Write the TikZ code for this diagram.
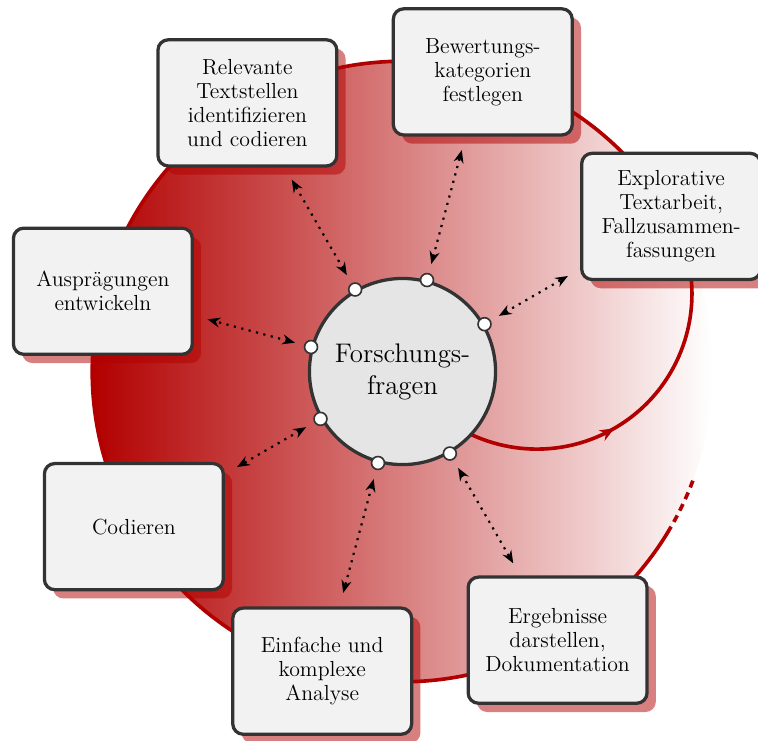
\documentclass[tikz,border=0pt]{standalone}
\usetikzlibrary{arrows.meta,shadows,decorations.markings}

\colorlet{cyclered}{red!70!black}
\colorlet{framegray}{black!80}

\tikzset{
  cycleline/.style={draw=cyclered, line width=2pt},
  centre/.style={circle, draw=framegray, line width=1.8pt, fill=gray!20,
    minimum size=3.6cm, inner sep=0pt, align=center,
    font=\fontsize{14.8}{17.5}\selectfont},
  port/.style={circle, draw=framegray, line width=0.9pt, fill=white,
    minimum size=0.25cm, inner sep=0pt},
  stepbox/.style={draw=framegray, line width=1.8pt, fill=gray!10,
    rounded corners=0.2cm, minimum width=3.46cm, minimum height=2.44cm,
    align=center, font=\fontsize{12}{13.2}\selectfont,
    drop shadow={shadow xshift=0.17cm, shadow yshift=-0.17cm,
      fill=cyclered, opacity=0.5}},
  spoke/.style={black, line width=1.2pt, dash pattern=on 1.2pt off 3pt,
    {Stealth[length=7pt,width=5.5pt]}-{Stealth[length=7pt,width=5.5pt]},
    shorten <=0.18cm, shorten >=0.27cm},
}

\begin{document}
\begin{tikzpicture}
  \useasboundingbox (-7.785,-7.128) rectangle (6.876,7.186);

  % shaded disc of the research cycle
  \shade[left color=cyclered, right color=white] (0,0) circle (6cm);

  % path leaving the centre and joining the outer cycle
  \draw[cycleline, postaction={decorate},
    decoration={markings, mark=at position 0.5 with
      {\arrow{Stealth[length=8pt,width=6.5pt]}}}]
    (0,0) arc[start angle=210, end angle=390, radius=3cm];
  \draw[cycleline] (30:6cm) arc[start angle=30, end angle=330, radius=6cm];
  \draw[cycleline, dash pattern=on 4pt off 3pt, dash phase=4pt]
    (330:6cm) arc[start angle=330, end angle=340, radius=6cm];

  % central question
  \node[centre] (F) at (0,0) {Forschungs-\\fragen};

  % connection points on the centre
  \node[port] (p30)  at (F.30)  {};
  \node[port] (p75)  at (F.75)  {};
  \node[port] (p120) at (F.120) {};
  \node[port] (p165) at (F.165) {};
  \node[port] (p210) at (F.210) {};
  \node[port] (p255) at (F.255) {};
  \node[port] (p300) at (F.300) {};

  % working steps around the cycle
  \node[stepbox] (b120) at (120:6cm) {Relevante\\Textstellen\\identifizieren\\und codieren};
  \node[stepbox] (b75)  at (75:6cm)  {Bewertungs-\\kategorien\\festlegen};
  \node[stepbox] (b30)  at (30:6cm)  {Explorative\\Textarbeit,\\Fallzusammen-\\fassungen};
  \node[stepbox] (b165) at (165:6cm) {Ausprägungen\\entwickeln};
  \node[stepbox] (b210) at (210:6cm) {Codieren};
  \node[stepbox] (b255) at (255:6cm) {Einfache und\\komplexe\\Analyse};
  \node[stepbox] (b300) at (300:6cm) {Ergebnisse\\darstellen,\\Dokumentation};

  % links between the question and each step
  \draw[spoke] (p30)  -- (b30);
  \draw[spoke] (p75)  -- (b75);
  \draw[spoke] (p120) -- (b120);
  \draw[spoke] (p165) -- (b165);
  \draw[spoke] (p210) -- (b210);
  \draw[spoke] (p255) -- (b255);
  \draw[spoke] (p300) -- (b300);
\end{tikzpicture}
\end{document}
